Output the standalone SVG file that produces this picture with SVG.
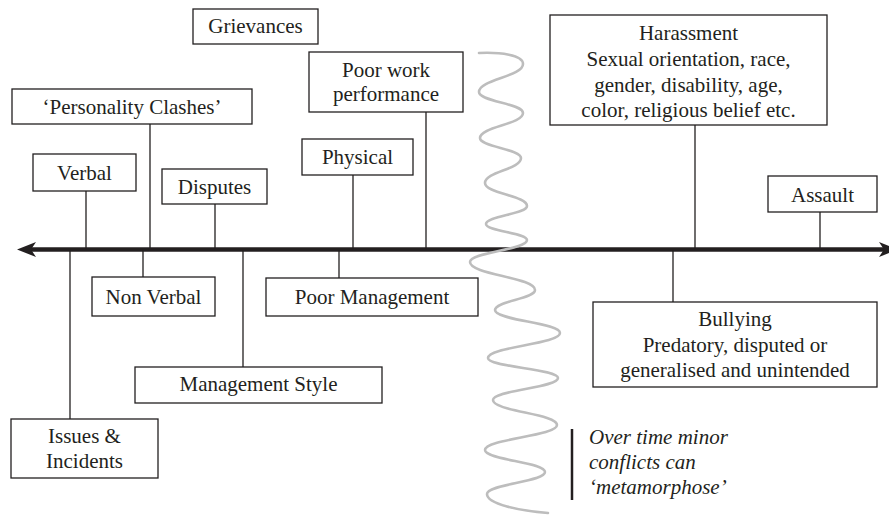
<svg xmlns="http://www.w3.org/2000/svg" width="889" height="516" viewBox="0 0 889 516">
  <style>
    .box { fill: #ffffff; stroke: #231f20; stroke-width: 1.3; }
    .t { font-size: 21px; fill: #231f20; text-anchor: middle; }
    .note { font-size: 21px; font-style: italic; fill: #231f20; }
    .conn { stroke: #231f20; stroke-width: 1.3; fill: none; }
    .axis { stroke: #231f20; stroke-width: 4.5; fill: none; }
    .wave { stroke: #bdbdbd; stroke-width: 2.6; fill: none; stroke-linecap: round; }
  </style>
  <defs>
    <marker id="arrow" markerUnits="userSpaceOnUse" markerWidth="20" markerHeight="16" viewBox="0 0 20 16" refX="5" refY="8" orient="auto-start-reverse">
      <path d="M0,0.5 L19,8 L0,15.5 L5,8 Z" fill="#231f20"/>
    </marker>
  </defs>

  <rect width="889" height="516" fill="#ffffff"/>

  <g id="connectors">
    <line class="axis" x1="31" y1="249.5" x2="884" y2="249.5" marker-start="url(#arrow)" marker-end="url(#arrow)"/>
    <line class="conn" x1="150" y1="124" x2="150" y2="249"/>
    <line class="conn" x1="86" y1="191" x2="86" y2="249"/>
    <line class="conn" x1="215" y1="204" x2="215" y2="249"/>
    <line class="conn" x1="426" y1="112" x2="426" y2="249"/>
    <line class="conn" x1="353" y1="175" x2="353" y2="249"/>
    <line class="conn" x1="695" y1="125" x2="695" y2="249"/>
    <line class="conn" x1="820" y1="212" x2="820" y2="249"/>
    <line class="conn" x1="143" y1="250" x2="143" y2="277"/>
    <line class="conn" x1="243" y1="250" x2="243" y2="367"/>
    <line class="conn" x1="70" y1="250" x2="70" y2="419"/>
    <line class="conn" x1="339" y1="250" x2="339" y2="278"/>
    <line class="conn" x1="673" y1="250" x2="673" y2="302"/>
  </g>

  <g id="wave">
    <path class="wave" d="M479,53 C500,52 523,55 523,64 C523,76.6 479,79.4 479,92 C479,101.5 523,103.5 523,113 C523,124.3 480,126.8 480,138 C480,147 521,149 521,158 C521,169.3 485,171.8 485,183 C485,193.4 527,195.7 527,206 C527,214.1 486,215.9 486,224 C486,231.2 527,232.8 527,240 C527,249.9 470,252.1 470,262 C470,274.6 535,277.4 535,290 C535,299 495,301 495,310 C495,320.4 560,322.7 560,333 C560,344.3 488,346.8 488,358 C488,367 558,369 558,378 C558,387.9 493,390.1 493,400 C493,411.3 557,413.8 557,425 C557,436.3 485,438.8 485,450 C485,459.9 545,462.1 545,472 C545,481.9 487,484.1 487,494 C487,504 520,511 548,513"/>
  </g>

  <g font-family="Liberation Serif, DejaVu Serif, serif">
  <g id="grievances">
    <rect class="box" x="193" y="9" width="125" height="35"/>
    <text class="t" x="255.5" y="33">Grievances</text>
  </g>
  <g id="personality-clashes">
    <rect class="box" x="12" y="89" width="240" height="35"/>
    <text class="t" x="132" y="114">‘Personality Clashes’</text>
  </g>
  <g id="verbal">
    <rect class="box" x="33" y="154" width="103" height="37"/>
    <text class="t" x="84.5" y="180">Verbal</text>
  </g>
  <g id="disputes">
    <rect class="box" x="162" y="169" width="105" height="35"/>
    <text class="t" x="214.5" y="194">Disputes</text>
  </g>
  <g id="poor-work-performance">
    <rect class="box" x="309" y="52" width="154" height="60"/>
    <text class="t" x="386" y="77">Poor work</text>
    <text class="t" x="386" y="101">performance</text>
  </g>
  <g id="physical">
    <rect class="box" x="302" y="139" width="111" height="36"/>
    <text class="t" x="357.5" y="164">Physical</text>
  </g>
  <g id="harassment">
    <rect class="box" x="550" y="15" width="277" height="110"/>
    <text class="t" x="688.5" y="40">Harassment</text>
    <text class="t" x="688.5" y="66">Sexual orientation, race,</text>
    <text class="t" x="688.5" y="91.5">gender, disability, age,</text>
    <text class="t" x="688.5" y="117">color, religious belief etc.</text>
  </g>
  <g id="assault">
    <rect class="box" x="768" y="176" width="109" height="36"/>
    <text class="t" x="822.5" y="202">Assault</text>
  </g>
  <g id="non-verbal">
    <rect class="box" x="92" y="277" width="123" height="39"/>
    <text class="t" x="153.5" y="304">Non Verbal</text>
  </g>
  <g id="poor-management">
    <rect class="box" x="266" y="278" width="212" height="38"/>
    <text class="t" x="372" y="304">Poor Management</text>
  </g>
  <g id="management-style">
    <rect class="box" x="135" y="367" width="247" height="36"/>
    <text class="t" x="258.5" y="391">Management Style</text>
  </g>
  <g id="issues-incidents">
    <rect class="box" x="11" y="419" width="147" height="59"/>
    <text class="t" x="84.5" y="443">Issues &amp;</text>
    <text class="t" x="84.5" y="468">Incidents</text>
  </g>
  <g id="bullying">
    <rect class="box" x="593" y="302" width="284" height="85"/>
    <text class="t" x="735" y="326">Bullying</text>
    <text class="t" x="735" y="352">Predatory, disputed or</text>
    <text class="t" x="735" y="377">generalised and unintended</text>
  </g>
  <g id="note">
    <line x1="572" y1="429" x2="572" y2="500" stroke="#231f20" stroke-width="2.5"/>
    <text class="note" x="589" y="444">Over time minor</text>
    <text class="note" x="589" y="469">conflicts can</text>
    <text class="note" x="589" y="494">‘metamorphose’</text>
  </g>
  </g>
</svg>
